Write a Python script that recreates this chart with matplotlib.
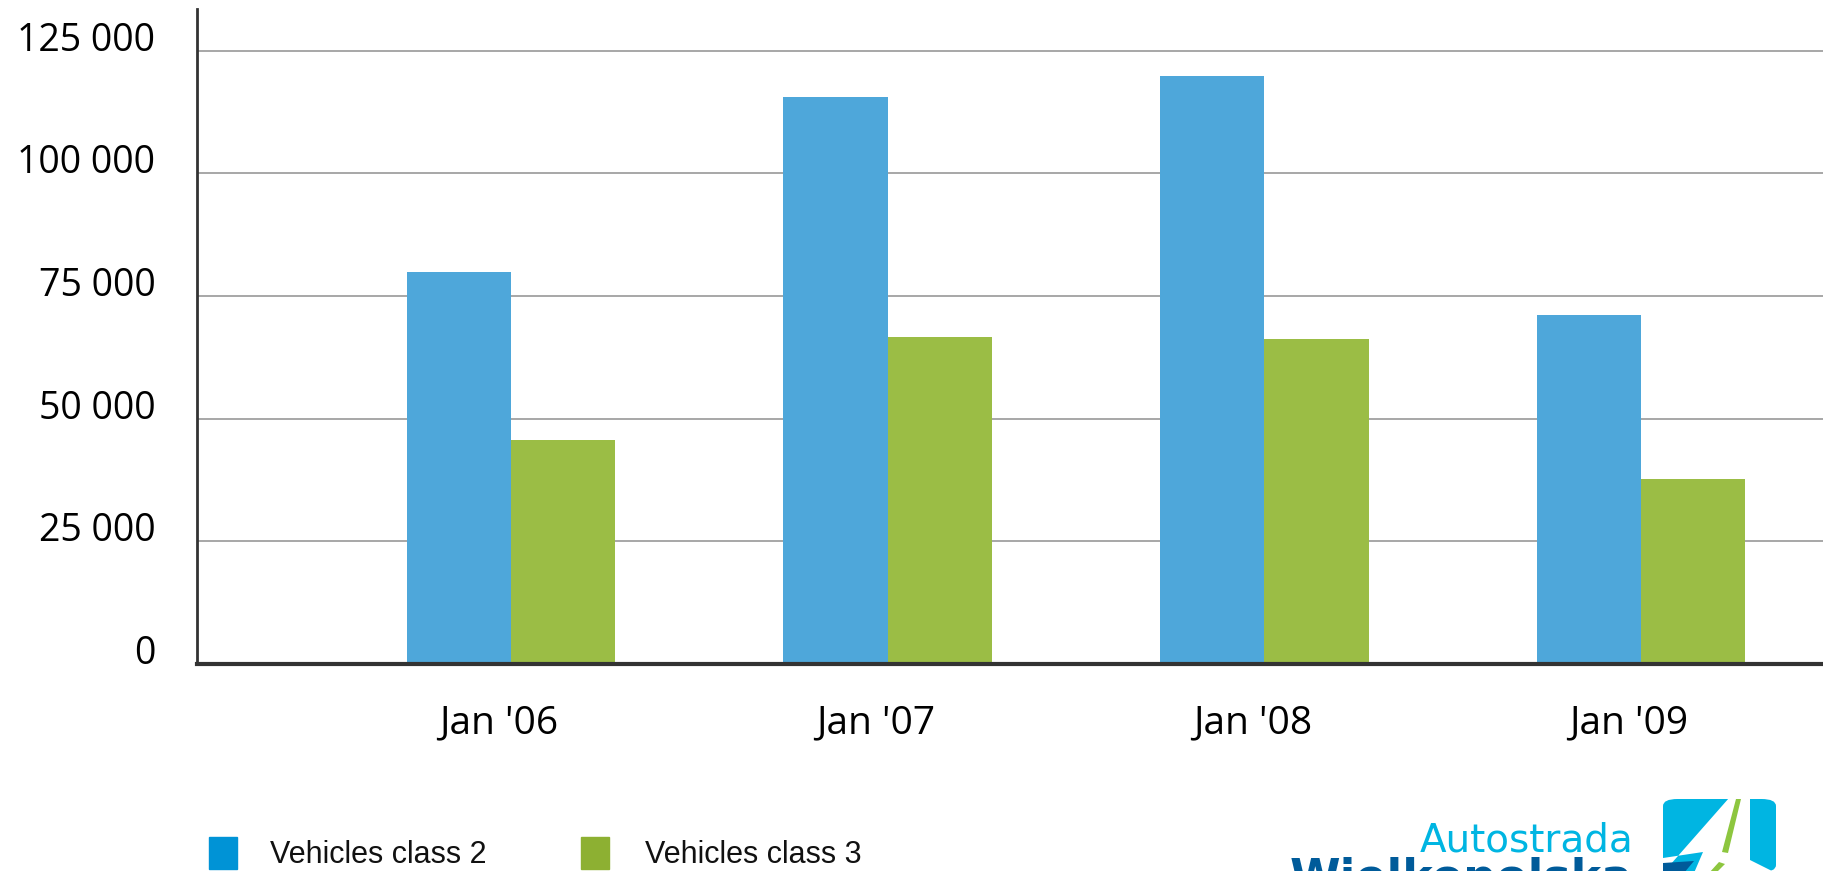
import numpy as np
import matplotlib
matplotlib.use("Agg")
import matplotlib.pyplot as plt
import matplotlib.transforms as mtransforms
from matplotlib.patches import Rectangle, Polygon, FancyBboxPatch

# data
periods = ["Jan '06", "Jan '07", "Jan '08", "Jan '09"]
class2 = [79900, 115500, 119800, 71200]
class3 = [45700, 66600, 66300, 37700]
yticks = [0, 25000, 50000, 75000, 100000, 125000]
series_names = ["Vehicles class 2", "Vehicles class 3"]

W, H = 1823, 871
fig = plt.figure(figsize=(W / 100, H / 100), dpi=100)

def fx(px):
    return px / W

def fy(py):
    return 1 - py / H

ax = fig.add_axes([fx(197), fy(664), 1 - fx(197), fy(9) - fy(664)])

x = np.arange(len(periods))
bw = 0.277
ax.bar(x - bw / 2, class2, bw, color="#4ea7da", zorder=2)
ax.bar(x + bw / 2, class3, bw, color="#9bbd45", zorder=2)

ax.set_xlim(-0.834, 3.483)
ax.set_ylim(0, 133500)
ax.set_yticks(yticks)
ax.set_yticklabels([f"{v:,}".replace(",", " ") for v in yticks])
ax.set_xticks(x)
ax.set_xticklabels(periods)
ax.grid(axis="y", color="#a0a0a0", linewidth=1.3, zorder=0)
ax.set_axisbelow(True)

for s in ["top", "right"]:
    ax.spines[s].set_visible(False)
ax.spines["left"].set_color("#333333")
ax.spines["left"].set_linewidth(2.0)
ax.spines["bottom"].set_color("#333333")
ax.spines["bottom"].set_linewidth(3.0)
ax.spines["bottom"].set_zorder(3)

ax.tick_params(axis="both", length=0)
ax.tick_params(axis="y", pad=30, labelsize=27)
ax.tick_params(axis="x", pad=29, labelsize=28)
for lab in ax.get_yticklabels():
    lab.set_fontfamily("Open Sans")
    lab.set_verticalalignment("baseline")
shift = mtransforms.ScaledTranslation(-0.12, 0, fig.dpi_scale_trans)
for lab in ax.get_xticklabels():
    lab.set_fontfamily("Open Sans")
    lab.set_transform(lab.get_transform() + shift)

# legend drawn at the bottom
leg_colors = ["#0093d6", "#8db032"]
leg_x = [209, 581]
txt_x = [270, 645]
for c, lx, tx, name in zip(leg_colors, leg_x, txt_x, series_names):
    fig.patches.append(Rectangle((fx(lx), fy(869)), fx(28), fy(837) - fy(869),
                                 transform=fig.transFigure, color=c))
    fig.text(fx(tx), fy(863), name, fontsize=22, va="baseline", ha="left",
             family="Liberation Sans", color="#111111")

# logo, bottom right (cut off by the edge as in the reference)
fig.text(fx(1420), fy(851), "Autostrada", fontsize=28, color="#00b5e2",
         va="baseline", ha="left", family="DejaVu Sans", weight="medium")
fig.text(fx(1290), fy(892), "Wielkopolska", fontsize=33, color="#005b9a",
         va="baseline", ha="left", family="DejaVu Sans", weight="bold")

def poly(pts, color):
    fig.patches.append(Polygon([(fx(a), fy(b)) for a, b in pts], closed=True,
                               transform=fig.transFigure, color=color, lw=0))

fig.patches.append(FancyBboxPatch((fx(1663), fy(872)), fx(113), fy(799) - fy(872),
                                  boxstyle="round,pad=0,rounding_size=0.008",
                                  transform=fig.transFigure, color="#00b5e2", lw=0))
poly([(1729, 798), (1750, 798), (1750, 860), (1776, 873), (1694, 873),
      (1703, 852), (1663, 858), (1663, 873)], "white")
poly([(1663, 863), (1694, 861), (1684, 873), (1663, 873)], "#005b9a")
poly([(1736, 799), (1741, 799), (1728, 853), (1722, 852)], "#8dc63f")
poly([(1719, 862), (1725, 864), (1716, 873), (1709, 873)], "#8dc63f")

fig.savefig("out.png", dpi=100)
